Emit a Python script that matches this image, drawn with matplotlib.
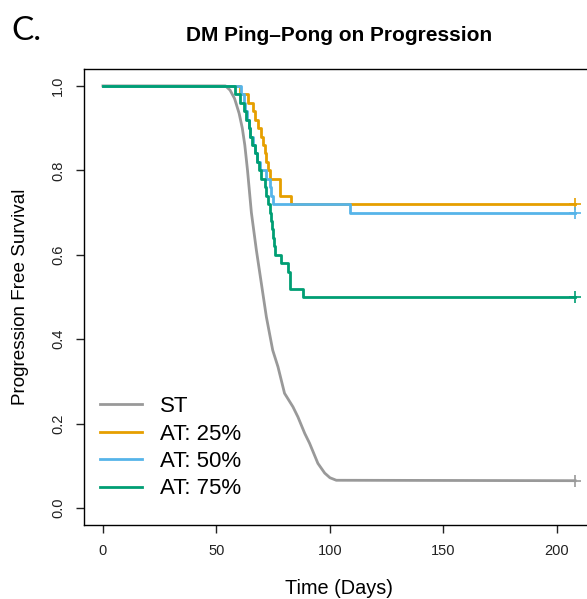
import matplotlib
matplotlib.use("Agg")
import matplotlib.pyplot as plt

plt.rcParams['font.family'] = ['Liberation Sans', 'DejaVu Sans']

# standard therapy: curve (many small steps -> drawn as a line)
st_days = [0, 54, 56, 58, 60, 61.4, 62.5, 63.7, 65.4, 67.6, 69.8, 72, 74.8, 77.1,
           80, 83.7, 85.9, 88.9, 91, 94.7, 97.7, 100, 102.8, 208]
st_surv = [1.0, 1.0, 0.99, 0.97, 0.935, 0.90, 0.86, 0.80, 0.70, 0.611, 0.532, 0.453,
           0.374, 0.335, 0.272, 0.24, 0.216, 0.177, 0.154, 0.106, 0.083, 0.072, 0.066, 0.065]

# adaptive therapy step curves (time of drop, survival after drop)
at25_days = [0, 60.5, 64, 66, 67, 68.5, 69.5, 70.5, 71.5, 72, 72.7, 73.4, 78, 83, 208]
at25_surv = [1.0, 0.98, 0.96, 0.94, 0.92, 0.90, 0.88, 0.86, 0.84, 0.82, 0.80, 0.78, 0.74, 0.72, 0.72]

at50_days = [0, 61, 62, 62.8, 63.5, 64.2, 65, 66, 66.8, 68, 69, 72, 73.4, 74.2, 74.9, 108.7, 208]
at50_surv = [1.0, 0.98, 0.96, 0.94, 0.92, 0.90, 0.88, 0.86, 0.84, 0.82, 0.80, 0.78, 0.76, 0.74,
             0.72, 0.70, 0.70]

at75_days = [0, 58, 60.2, 62.1, 63.2, 64.2, 65, 65.8, 66.8, 67.8, 68.8, 69.8, 71.2, 72, 72.6,
             73.4, 74, 74.6, 75, 75.4, 75.6, 78.6, 81.5, 82.5, 88.1, 208]
at75_surv = [1.0, 0.98, 0.96, 0.94, 0.92, 0.90, 0.88, 0.86, 0.84, 0.82, 0.80, 0.78, 0.76, 0.74,
             0.72, 0.70, 0.68, 0.66, 0.64, 0.62, 0.60, 0.58, 0.56, 0.52, 0.50, 0.50]

labels = ['ST', 'AT: 25%', 'AT: 50%', 'AT: 75%']
colors = ['#999999', '#E69F00', '#56B4E9', '#009E73']

fig = plt.figure(figsize=(5.87, 5.99), dpi=100)
ax = fig.add_axes([0.1431, 0.1235, 0.8688, 0.7613])

ax.plot(st_days, st_surv, color=colors[0], lw=2, label=labels[0])
ax.step(at25_days, at25_surv, where='post', color=colors[1], lw=2, label=labels[1])
ax.step(at50_days, at50_surv, where='post', color=colors[2], lw=2, label=labels[2])
ax.step(at75_days, at75_surv, where='post', color=colors[3], lw=2, label=labels[3])

# censor marks at the end
for d, s, c in [(st_days, st_surv, colors[0]), (at25_days, at25_surv, colors[1]),
                (at50_days, at50_surv, colors[2]), (at75_days, at75_surv, colors[3])]:
    ax.plot(d[-1], s[-1], marker='+', ms=9, mew=1.2, color=c, linestyle='')

ax.set_xlim(-8.32, 216.3)
ax.set_ylim(-0.04, 1.04)
ax.set_xticks([0, 50, 100, 150, 200])
ax.set_yticks([0.0, 0.2, 0.4, 0.6, 0.8, 1.0])
ax.set_yticklabels(['0.0', '0.2', '0.4', '0.6', '0.8', '1.0'], rotation=90, va='center')
ax.tick_params(direction='out', length=5.5, width=1, labelsize=10.5, pad=8, colors='#222222')
for sp in ax.spines.values():
    sp.set_linewidth(1)

ax.set_xlabel('Time (Days)', fontsize=14.3, labelpad=15)
ax.set_ylabel('Progression Free Survival', fontsize=13.6, labelpad=16)

ax.legend(loc='center left', bbox_to_anchor=(0.0314, 0.1695), frameon=False, fontsize=16,
          handlelength=1.9, handletextpad=0.8, labelspacing=0.29, borderaxespad=0,
          borderpad=0)

fig.text(0.5775, 0.941, 'DM Ping\u2013Pong on Progression', ha='center', va='center',
         fontsize=15, fontweight='bold')
fig.text(0.02, 0.948, 'C.', ha='left', va='center', fontsize=24, family=['Lato', 'DejaVu Sans'])

fig.savefig('out.png', dpi=100)
